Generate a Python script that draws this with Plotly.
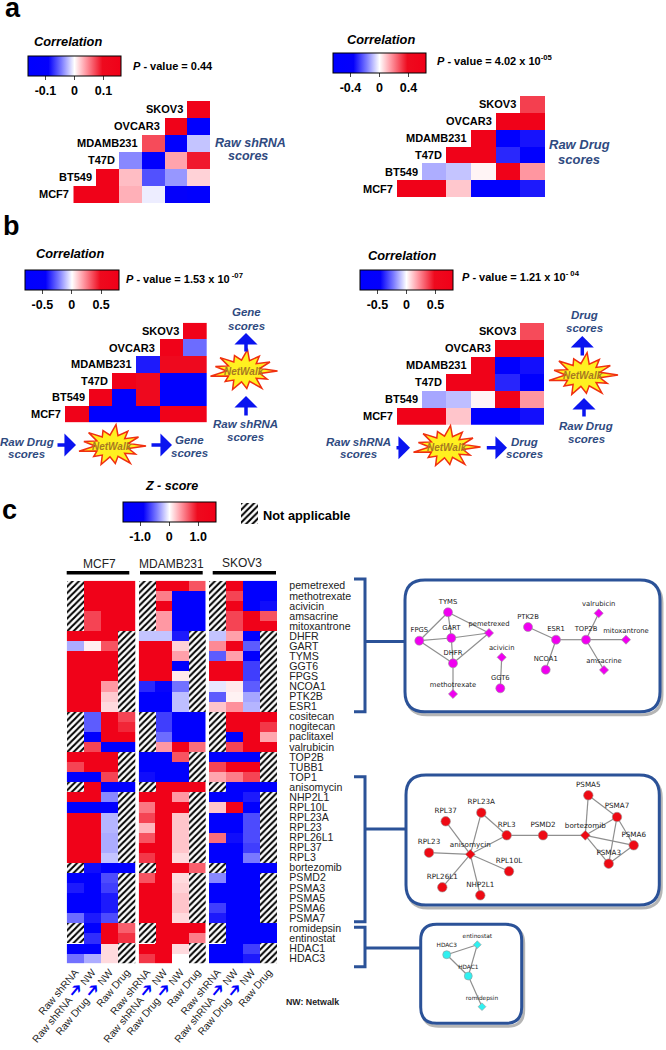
import math
import plotly.graph_objs as go

W, H = 666, 1050
N = None
FONT = "Liberation Sans, Arial, sans-serif"
NETFONT = "DejaVu Sans, sans-serif"
NAVY = "#2f4a80"
FRAME = "#2b5298"
SCALE = [[0, "#0000ff"], [0.22, "#0400fb"], [0.36, "#7a7aff"], [0.5, "#ffffff"],
         [0.62, "#ff9aa4"], [0.8, "#ee0a1e"], [1, "#f00018"]]

# correlation triangles
cell_lines = ["SKOV3", "OVCAR3", "MDAMB231", "T47D", "BT549", "MCF7"]
corr_raw_shrna = [
    [N, N, N, N, N, 0.15],
    [N, N, N, N, 0.15, -0.15],
    [N, N, N, 0.07, -0.15, -0.02],
    [N, N, -0.04, -0.15, 0.035, 0.09],
    [N, 0.15, 0.025, -0.06, -0.035, 0.017],
    [0.15, 0.15, 0.03, -0.006, -0.09, -0.15],
]
corr_raw_drug = [
    [N, N, N, N, N, 0.3],
    [N, N, N, N, 0.6, 0.6],
    [N, N, N, 0.6, -0.6, -0.33],
    [N, N, 0.6, 0.6, -0.3, -0.6],
    [N, -0.11, -0.08, 0.017, 0.6, 0.16],
    [0.6, 0.6, 0.085, -0.6, -0.6, -0.32],
]
corr_nw_gene = [
    [N, N, N, N, N, 0.75],
    [N, N, N, N, 0.75, -0.25],
    [N, N, N, -0.4, 0.5, 0.5],
    [N, N, 0.75, 0.5, -0.75, -0.75],
    [N, 0.75, -0.75, 0.5, -0.75, -0.75],
    [0.75, -0.75, -0.75, -0.75, 0.75, 0.75],
]
corr_nw_drug = [
    [N, N, N, N, N, 0.35],
    [N, N, N, N, 0.75, 0.75],
    [N, N, N, 0.75, -0.75, -0.42],
    [N, N, 0.75, 0.75, -0.38, -0.75],
    [N, -0.15, -0.11, 0.02, 0.75, 0.2],
    [0.75, 0.75, 0.11, -0.75, -0.75, -0.42],
]

# z score heatmaps
row_names = ["pemetrexed", "methotrexate", "acivicin", "amsacrine", "mitoxantrone", "DHFR", "GART",
             "TYMS", "GGT6", "FPGS", "NCOA1", "PTK2B", "ESR1", "cositecan", "nogitecan", "paclitaxel",
             "valrubicin", "TOP2B", "TUBB1", "TOP1", "anisomycin", "NHP2L1", "RPL10L", "RPL23A", "RPL23",
             "RPL26L1", "RPL37", "RPL3", "bortezomib", "PSMD2", "PSMA3", "PSMA5", "PSMA6", "PSMA7",
             "romidepsin", "entinostat", "HDAC1", "HDAC3"]
col_names = ["Raw shRNA",
             "Raw shRNA <span style='color:#0000ff;font-size:17px'>➔</span> NW",
             "Raw Drug <span style='color:#0000ff;font-size:17px'>➔</span> NW",
             "Raw Drug"]
z_mcf7 = [
    [N, 1.5, 1.5, 1.5], [N, 1.5, 1.5, 1.5], [N, 1.5, 1.5, 1.5], [N, 0.73, 1.5, 1.5], [N, 0.73, 1.5, 1.5],
    [1.5, 1.5, 1.5, N], [-0.28, 0.06, 0.67, N], [1.5, 1.5, 1.5, N], [1.5, 1.5, 1.5, N], [1.5, 1.5, 1.5, N],
    [1.5, 1.5, 0.39, N], [1.5, 1.5, 0.2, N], [1.5, 1.5, 0.14, N],
    [N, -0.56, 1.5, 0.73], [N, -0.56, 1.5, 0.85], [N, -1.5, 1.5, 1.5], [N, 0.73, -1.5, -1.5],
    [1.5, 1.5, 1.5, N], [0.73, 1.5, 1.5, N], [-1.5, -1.5, 0.73, N],
    [N, 1.5, -1.5, -1.5], [1.5, 1.5, -0.4, N], [-1.5, -1.5, -1.5, N], [1.5, 1.5, -0.25, N],
    [1.5, 1.5, -0.25, N], [1.5, 1.5, -0.28, N], [1.5, 1.5, -0.28, N], [1.5, 1.5, -0.2, N],
    [N, -0.85, -1.5, -1.5], [-1.5, -1.5, -0.62, N], [-0.8, -1.5, -0.67, N], [-1.5, -1.5, -0.8, N],
    [-1.5, -1.5, -0.8, N], [-0.5, -0.8, -0.62, N],
    [N, -1.5, 1.5, 0.62], [N, -0.73, 1.5, 0.8], [-1.5, -1.5, 0.14, N], [-0.48, -0.28, 0.14, N],
]
z_mdamb231 = [
    [N, 1.5, 1.5, 0.67], [N, 0.5, -1.5, -1.5], [N, 1.5, -1.5, -1.5], [N, 0.39, -1.5, -1.5], [N, 0.39, -1.5, -1.5],
    [-0.2, -0.2, -0.8, N], [1.5, 1.5, 0.17, N], [1.5, 1.5, 0.36, N], [1.5, 1.5, -1.5, N], [1.5, 1.5, 0.08, N],
    [-0.75, -0.88, -0.48, N], [-1.5, -1.5, -0.22, N], [-1.5, -1.5, -0.22, N],
    [N, -0.67, -1.5, -1.5], [N, -0.67, -1.5, -1.5], [N, -0.5, -1.5, -1.5], [N, 0.39, 1.5, 0.56],
    [-1.5, -1.5, 0.67, N], [-1.5, -1.5, -1.5, N], [-0.85, -1.5, -1.5, N],
    [N, 1.5, 1.5, 1.5], [1.5, 1.5, 0.39, N], [0.53, 1.5, 1.5, N], [0.73, 1.5, 0.22, N],
    [0.28, 1.5, 0.22, N], [0.67, 1.5, 0.22, N], [1.5, 1.5, 0.22, N], [0.78, 1.5, 0.14, N],
    [N, 1.5, 1.5, 0.62], [0.67, 1.5, 0.14, N], [1.5, 1.5, 0.17, N], [1.5, 1.5, 0.22, N],
    [1.5, 1.5, 0.22, N], [1.5, 1.5, 0.14, N],
    [N, 1.5, 1.5, 1.5], [N, 1.5, 1.5, 0.5], [1.5, 1.5, 0.14, N], [0.78, 1.5, 0.0, N],
]
z_skov3 = [
    [N, 1.5, -1.5, -1.5], [N, 0.73, -1.5, -1.5], [N, 1.5, -1.5, -0.85], [N, 0.73, 1.5, 0.67], [N, 0.73, 1.5, 1.5],
    [-0.2, 0.36, -1.5, N], [0.45, 1.5, -0.56, N], [-0.56, 0.36, -1.5, N], [1.5, 1.5, -0.67, N], [1.5, 1.5, -0.67, N],
    [-0.08, 0.08, -0.56, N], [-0.56, 0.05, -0.3, N], [0.22, 0.42, -0.25, N],
    [N, 1.5, 1.5, 1.5], [N, 1.5, 1.5, 0.78], [N, -1.5, 1.5, 0.34], [N, 0.73, 1.5, 1.5],
    [-1.5, -1.5, -1.5, N], [0.73, 1.5, 1.5, N], [0.34, 0.5, 0.73, N],
    [N, -1.5, -1.5, -1.5], [-1.5, -1.5, -0.8, N], [0.22, 1.5, -1.5, N], [-1.5, -1.5, -0.62, N],
    [-1.5, -1.5, -0.62, N], [0.56, -0.85, -0.62, N], [-1.5, -1.5, -0.67, N], [-1.5, -1.5, -0.45, N],
    [N, -1.5, -1.5, -1.5], [-0.4, -1.5, -1.5, N], [-1.5, -1.5, -1.5, N], [-1.5, -1.5, -1.5, N],
    [-0.67, -1.5, -1.5, N], [-0.8, -1.5, -1.5, N],
    [N, -1.5, -1.5, -1.5], [N, -1.5, -1.5, -1.5], [-1.5, -1.5, -0.67, N], [-1.5, -1.5, -0.8, N],
]

# networks: name -> node position in page pixels
genes_1 = {"TYMS": (448, 612.3), "FPGS": (419.3, 640.7), "GART": (451.3, 638), "DHFR": (453, 663.3),
           "PTK2B": (528, 627), "ESR1": (556, 639.7), "TOP2B": (586, 639.7), "NCOA1": (545.7, 669.7),
           "GGT6": (500.3, 688.3)}
drugs_1 = {"pemetrexed": (489, 633), "methotrexate": (453, 694), "acivicin": (501.7, 657.3),
           "valrubicin": (598.7, 613.3), "mitoxantrone": (626, 639.7), "amsacrine": (604, 670)}
edges_1 = [("TYMS", "FPGS"), ("TYMS", "GART"), ("TYMS", "pemetrexed"), ("FPGS", "GART"), ("GART", "pemetrexed"),
           ("FPGS", "DHFR"), ("GART", "DHFR"), ("DHFR", "pemetrexed"), ("DHFR", "methotrexate"), ("acivicin", "GGT6"),
           ("PTK2B", "ESR1"), ("ESR1", "TOP2B"), ("ESR1", "NCOA1"), ("TOP2B", "valrubicin"),
           ("TOP2B", "mitoxantrone"), ("TOP2B", "amsacrine")]
genes_2 = {"RPL37": (445.7, 821.3), "RPL23A": (481.3, 812.7), "RPL3": (506.7, 835.3), "PSMD2": (543, 835.3),
           "RPL23": (429, 852.7), "RPL10L": (509, 871.3), "RPL26L1": (442.3, 887.3), "NHP2L1": (480.3, 895.3),
           "PSMA5": (588.3, 795.3), "PSMA7": (617, 817), "PSMA6": (633.7, 845.3), "PSMA3": (608.7, 863.7)}
drugs_2 = {"anisomycin": (470.3, 854.3), "bortezomib": (585.3, 835.3)}
edges_2 = [("anisomycin", "RPL37"), ("anisomycin", "RPL23A"), ("anisomycin", "RPL3"), ("anisomycin", "RPL23"),
           ("anisomycin", "RPL10L"), ("anisomycin", "RPL26L1"), ("anisomycin", "NHP2L1"), ("RPL23A", "RPL3"),
           ("RPL3", "PSMD2"), ("PSMD2", "bortezomib"), ("bortezomib", "PSMA5"), ("bortezomib", "PSMA7"),
           ("bortezomib", "PSMA6"), ("bortezomib", "PSMA3"), ("PSMA5", "PSMA7"), ("PSMA7", "PSMA6"),
           ("PSMA7", "PSMA3"), ("PSMA6", "PSMA3")]
genes_3 = {"HDAC3": (446.7, 954.7), "HDAC1": (468.3, 976)}
drugs_3 = {"entinostat": (477.3, 944.7), "romidepsin": (482, 1006.7)}
edges_3 = [("entinostat", "HDAC3"), ("HDAC3", "HDAC1"), ("entinostat", "HDAC1"), ("HDAC1", "romidepsin")]

star_radii = [1.0, 0.78, 0.95, 0.8, 0.9, 0.72, 1.0, 0.85, 0.92, 0.75, 0.98, 0.82, 0.88]

fig = go.Figure()
layout = {}
shapes = []
notes = []
panel_id = 1


def add_axes(left, right, top, bottom, ncols, nrows):
    global panel_id
    panel_id += 1
    layout[f"xaxis{panel_id}"] = dict(domain=[left / W, right / W], range=[-0.5, ncols - 0.5], visible=False,
                                      anchor=f"y{panel_id}", fixedrange=True)
    layout[f"yaxis{panel_id}"] = dict(domain=[1 - bottom / H, 1 - top / H], range=[nrows - 0.5, -0.5], visible=False,
                                      anchor=f"x{panel_id}", fixedrange=True)
    return f"x{panel_id}", f"y{panel_id}"


def note(x, y, text, size=12, color="black", weight="bold", style="normal", anchor="center", family=FONT):
    notes.append(dict(x=x, y=y, xref="x", yref="y", text=text, showarrow=False, xanchor=anchor, yanchor="middle",
                      font=dict(family=family, size=size, color=color, weight=weight, style=style)))


def colorbar_dict(left, right, top, ticks, labels):
    return dict(orientation="h", x=left / W, xanchor="left", y=1 - top / H, yanchor="top", len=right - left,
                lenmode="pixels", thickness=20, thicknessmode="pixels", xpad=0, ypad=0, outlinewidth=1,
                outlinecolor="black", ticks="outside", ticklen=4, tickwidth=1, tickcolor="#444",
                tickvals=ticks, ticktext=labels,
                tickfont=dict(family=FONT, size=12.5, color="black", weight="bold"))


def triangle(z, left, right, top, bottom, zmax, bar, ticks, labels):
    xa, ya = add_axes(left, right, top, bottom, 6, 6)
    fig.add_trace(go.Heatmap(z=z, x=list(range(6)), y=list(range(6)), xaxis=xa, yaxis=ya, colorscale=SCALE,
                             zmin=-zmax, zmax=zmax, hoverongaps=False, colorbar=colorbar_dict(*bar, ticks, labels)))
    for i, name in enumerate(cell_lines):
        first = next(j for j, v in enumerate(z[i]) if v is not None)
        notes.append(dict(x=first - 0.5, y=i, xref=xa, yref=ya, text=name, showarrow=False, xanchor="right",
                          xshift=-2, font=dict(family=FONT, size=11, color="black", weight="bold")))


def arrow(x0, y0, x1, y1):
    notes.append(dict(x=x1, y=y1, ax=x0, ay=y0, xref="x", yref="y", axref="x", ayref="y", text="", showarrow=True,
                      arrowhead=1, arrowsize=1.1, arrowwidth=3.5, arrowcolor="#0a14f0"))


def star(cx, cy, rx, ry):
    n = len(star_radii)
    pts = []
    for i, r in enumerate(star_radii):
        a = 2 * math.pi * i / n
        pts.append((cx + rx * r * math.cos(a), cy + ry * r * math.sin(a)))
        b = a + math.pi / n
        pts.append((cx + rx * 0.5 * math.cos(b), cy + ry * 0.5 * math.sin(b)))
    path = "M " + " L ".join(f"{x:.1f} {y:.1f}" for x, y in pts) + " Z"
    shapes.append(dict(type="path", path=path, xref="x", yref="y", fillcolor="#fff020",
                       line=dict(color="#f03010", width=1.5)))
    note(cx, cy, "NetWalk", size=10, color="#a87a20", style="italic")


def round_box(x0, y0, x1, y1, r):
    path = (f"M {x0 + r} {y0} L {x1 - r} {y0} Q {x1} {y0} {x1} {y0 + r} L {x1} {y1 - r} Q {x1} {y1} {x1 - r} {y1} "
            f"L {x0 + r} {y1} Q {x0} {y1} {x0} {y1 - r} L {x0} {y0 + r} Q {x0} {y0} {x0 + r} {y0} Z")
    shift = (f"M {x0 + r + 2} {y0 + 3} L {x1 - r + 2} {y0 + 3} Q {x1 + 2} {y0 + 3} {x1 + 2} {y0 + r + 3} "
             f"L {x1 + 2} {y1 - r + 3} Q {x1 + 2} {y1 + 3} {x1 - r + 2} {y1 + 3} L {x0 + r + 2} {y1 + 3} "
             f"Q {x0 + 2} {y1 + 3} {x0 + 2} {y1 - r + 3} L {x0 + 2} {y0 + r + 3} Q {x0 + 2} {y0 + 3} {x0 + r + 2} {y0 + 3} Z")
    shapes.append(dict(type="path", path=shift, xref="x", yref="y", layer="below", line=dict(color="#b5b5b5", width=3)))
    shapes.append(dict(type="path", path=path, xref="x", yref="y", layer="below", fillcolor="white",
                       line=dict(color=FRAME, width=3)))


def bracket(x, x_tab, top, bottom, mid, x_end):
    path = f"M {x_tab} {top} L {x} {top} L {x} {bottom} L {x_tab} {bottom} M {x} {mid} L {x_end} {mid}"
    shapes.append(dict(type="path", path=path, xref="x", yref="y", layer="below", line=dict(color=FRAME, width=3)))


def network(genes, drugs, edges, color, size, label_size):
    nodes = {**genes, **drugs}
    xs, ys = [], []
    for a, b in edges:
        xs += [nodes[a][0], nodes[b][0], None]
        ys += [nodes[a][1], nodes[b][1], None]
    fig.add_trace(go.Scatter(x=xs, y=ys, mode="lines", line=dict(color="#8f8f8f", width=1.2), hoverinfo="skip"))
    for group, symbol, ms in ((genes, "circle", size), (drugs, "diamond", size - 2)):
        fig.add_trace(go.Scatter(
            x=[p[0] for p in group.values()], y=[p[1] for p in group.values()], text=list(group.keys()),
            mode="markers+text", textposition="top center",
            textfont=dict(family=NETFONT, size=label_size, color="#222"),
            marker=dict(symbol=symbol, size=ms, color=color, line=dict(color="#999", width=0.6))))


def hatch_runs(z):
    xs, bases, lengths = [], [], []
    for c in range(4):
        r = 0
        while r < len(z):
            if z[r][c] is None:
                start = r
                while r < len(z) and z[r][c] is None:
                    r += 1
                xs.append(c)
                bases.append(start - 0.5)
                lengths.append(r - start)
            else:
                r += 1
    return xs, bases, lengths


HATCH = dict(shape="/", size=4.5, solidity=0.45, fgcolor="black", bgcolor="white", fillmode="replace")

# panel a, b
triangle(corr_raw_shrna, 73.3, 210, 101, 203, 0.15, (28, 121, 56), [-0.1, 0, 0.1], ["-0.1", "0", "0.1"])
triangle(corr_raw_drug, 397, 545, 96, 197.3, 0.6, (333, 426.3, 52.7), [-0.4, 0, 0.4], ["-0.4", "0", "0.4"])
triangle(corr_nw_gene, 65, 206.7, 322.7, 422.3, 0.75, (24.7, 118.3, 269.7), [-0.5, 0, 0.5], ["-0.5", "0", "0.5"])
triangle(corr_nw_drug, 397, 544.3, 323, 424.7, 0.75, (360, 453, 270), [-0.5, 0, 0.5], ["-0.5", "0", "0.5"])
# fix colour ranges to the drawn colorbars
ranges = [0.16, 0.64, 0.8, 0.8]
for tr, zm in zip(fig.data, ranges):
    tr.zmin, tr.zmax = -zm, zm

# panel c
panels = [(z_mcf7, 66.7, 135.3), (z_mdamb231, 138.7, 205.7), (z_skov3, 209, 277.3)]
for k, (z, left, right) in enumerate(panels):
    xa, ya = add_axes(left, right, 580.7, 963.3, 4, 38)
    hx, hb, hl = hatch_runs(z)
    fig.add_trace(go.Bar(x=hx, base=hb, y=hl, width=1, xaxis=xa, yaxis=ya, marker=dict(pattern=HATCH, line_width=0)))
    trace = go.Heatmap(z=z, x=list(range(4)), y=list(range(38)), xaxis=xa, yaxis=ya, colorscale=SCALE, zmin=-1.6,
                       zmax=1.6, hoverongaps=False, showscale=False)
    if k == 0:
        trace.showscale = True
        trace.colorbar = colorbar_dict(122.7, 216, 501.7, [-1, 0, 1], ["-1.0", "0", "1.0"])
    fig.add_trace(trace)
    layout[xa.replace("x", "xaxis")].update(visible=True, showgrid=False, zeroline=False, showline=False, ticks="",
                                            tickvals=[0, 1, 2, 3], ticktext=col_names, tickangle=-50,
                                            tickfont=dict(family=FONT, size=10.3, color="#222"))
    if k == 2:
        layout[ya.replace("y", "yaxis")].update(visible=True, side="right", showgrid=False, zeroline=False,
                                                showline=False, ticks="", tickvals=list(range(38)), ticktext=row_names,
                                                ticklabelstandoff=11, tickfont=dict(family=FONT, size=10.6, color="#222"))

# hatch legend on the page axis
fig.add_trace(go.Bar(x=[249.5], base=[503.3], y=[20.7], width=17.6, marker=dict(pattern=HATCH, line_width=0)))

# networks and their frames
round_box(405, 580, 660, 711.7, 20)
round_box(406, 775, 659.3, 905, 20)
round_box(420.7, 924.3, 521.7, 1023.3, 16)
bracket(365, 354, 579, 711.7, 641.5, 405)
bracket(365, 354, 776.7, 921.7, 829, 406)
bracket(365, 354, 927.3, 966.7, 948, 420.7)
network(genes_1, drugs_1, edges_1, "#f000f0", 9, 6.8)
network(genes_2, drugs_2, edges_2, "#ee0a14", 9.5, 7.2)
network(genes_3, drugs_3, edges_3, "#30f0f0", 8, 5.8)

# panel letters and texts
note(12.5, 8, "a", size=27)
note(11, 226, "b", size=27)
note(9, 510, "c", size=27)
note(68.3, 41, "Correlation", size=12.8, style="italic")
note(380.7, 39.7, "Correlation", size=12.8, style="italic")
note(70, 253.3, "Correlation", size=12.8, style="italic")
note(402, 255.7, "Correlation", size=12.8, style="italic")
note(130.7, 65.7, "<i>P</i> - value = 0.44", size=11, anchor="left")
note(434.7, 60, "<i>P</i> - value = 4.02 x 10<sup>-05</sup>", size=11, anchor="left")
note(124, 278, "<i>P</i> - value = 1.53 x 10<sup> -07</sup>", size=11, anchor="left")
note(459.7, 276, "<i>P</i> - value = 1.21 x 10<sup>- 04</sup>", size=11, anchor="left")
note(250, 143.3, "Raw shRNA", size=12.5, color=NAVY, style="italic")
note(248.3, 155.7, "scores", size=12.5, color=NAVY, style="italic")
note(579, 144.7, "Raw Drug", size=13, color=NAVY, style="italic")
note(579, 159.3, "scores", size=13, color=NAVY, style="italic")
note(246, 312, "Gene", size=11.5, color=NAVY, style="italic")
note(246, 325.7, "scores", size=11.5, color=NAVY, style="italic")
note(245.7, 424.3, "Raw shRNA", size=11.5, color=NAVY, style="italic")
note(245.7, 437, "scores", size=11.5, color=NAVY, style="italic")
note(26.7, 441.7, "Raw Drug", size=11.5, color=NAVY, style="italic")
note(26.7, 453.5, "scores", size=11.5, color=NAVY, style="italic")
note(189, 440, "Gene", size=11.5, color=NAVY, style="italic")
note(189, 452.7, "scores", size=11.5, color=NAVY, style="italic")
note(584.7, 315, "Drug", size=11.5, color=NAVY, style="italic")
note(584.7, 328, "scores", size=11.5, color=NAVY, style="italic")
note(586.3, 425.7, "Raw Drug", size=11.5, color=NAVY, style="italic")
note(586.3, 439, "scores", size=11.5, color=NAVY, style="italic")
note(358, 442, "Raw shRNA", size=11.5, color=NAVY, style="italic")
note(358, 454, "scores", size=11.5, color=NAVY, style="italic")
note(524.7, 442, "Drug", size=11.5, color=NAVY, style="italic")
note(524.7, 454, "scores", size=11.5, color=NAVY, style="italic")
note(171, 486, "Z - score", size=12.5, style="italic")
note(261, 515, "Not applicable", size=12.8, anchor="left")
note(99.3, 564, "MCF7", size=12, color="#222", weight="normal")
note(171.7, 564, "MDAMB231", size=12, color="#222", weight="normal")
note(242.3, 563.3, "SKOV3", size=12, color="#222", weight="normal")
note(312, 1002.3, "NW: Netwalk", size=8.8, color="#222")

# stars and arrows
star(243.5, 371, 34, 22)
star(112, 446, 34, 22)
star(583, 375, 35, 23)
star(446.5, 447, 34, 22)
arrow(246, 353, 246, 333)
arrow(246, 417, 246, 396)
arrow(56, 445, 76, 445)
arrow(150, 445, 172, 445)
arrow(582.3, 357, 582.3, 336)
arrow(584, 418, 584, 398)
arrow(395, 447.7, 410, 447.7)
arrow(485.3, 447.7, 507, 447.7)

# black bars over the heatmap columns
for x0, x1 in ((66.7, 129.3), (140, 202.7), (212.7, 276)):
    shapes.append(dict(type="rect", x0=x0, x1=x1, y0=571, y1=574.5, xref="x", yref="y", fillcolor="black", line_width=0))

fig.update_layout(
    width=W, height=H, margin=dict(l=0, r=0, t=0, b=0, autoexpand=False), showlegend=False, plot_bgcolor="white",
    paper_bgcolor="white", barmode="overlay", bargap=0,
    xaxis=dict(domain=[0, 1], range=[0, W], visible=False, fixedrange=True),
    yaxis=dict(domain=[0, 1], range=[H, 0], visible=False, fixedrange=True),
    shapes=shapes, annotations=notes, **layout,
)
fig.write_html("out.html", config={"displayModeBar": False},
               post_script="document.body.style.margin='0';document.documentElement.style.overflow='hidden';")
